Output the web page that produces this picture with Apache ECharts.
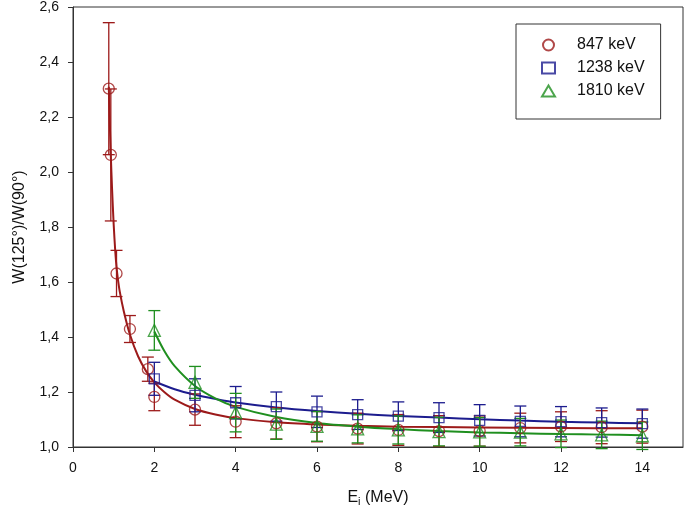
<!DOCTYPE html>
<html>
<head>
<meta charset="utf-8">
<script src="https://cdn.jsdelivr.net/npm/echarts@6/dist/echarts.min.js"></script>
<style>html,body{margin:0;padding:0;background:#fff}#c{width:685px;height:514px}</style>
</head>
<body>
<div id="c"></div>
<script>
// ---- data ----
var seriesNames = ['847 keV', '1238 keV', '1810 keV'];

var x847 = [0.88, 0.93, 1.07, 1.40, 1.84, 2.0, 3, 4, 5, 6, 7, 8, 9, 10, 11, 12, 13, 14];
var y847 = [2.303, 2.062, 1.631, 1.429, 1.283, 1.182, 1.136, 1.092, 1.086, 1.074, 1.067, 1.062, 1.058, 1.058, 1.069, 1.074, 1.072, 1.074];
var e847 = [0.24, 0.24, 0.084, 0.049, 0.044, 0.05, 0.057, 0.058, 0.057, 0.055, 0.056, 0.056, 0.056, 0.055, 0.054, 0.054, 0.06, 0.06];

var x1238 = [2, 3, 4, 5, 6, 7, 8, 9, 10, 11, 12, 13, 14];
var y1238 = [1.248, 1.188, 1.161, 1.147, 1.128, 1.118, 1.112, 1.107, 1.097, 1.093, 1.092, 1.089, 1.085];
var e1238 = [0.06, 0.06, 0.059, 0.053, 0.057, 0.054, 0.052, 0.054, 0.057, 0.056, 0.055, 0.053, 0.053];

var x1810 = [2, 3, 4, 5, 6, 7, 8, 9, 10, 11, 12, 13, 14];
var y1810 = [1.424, 1.235, 1.125, 1.083, 1.075, 1.066, 1.062, 1.056, 1.055, 1.054, 1.048, 1.044, 1.041];
var e1810 = [0.072, 0.058, 0.07, 0.055, 0.054, 0.051, 0.051, 0.052, 0.052, 0.05, 0.05, 0.05, 0.05];

// fitted curves
var fit847X = [0.88, 0.90, 0.93, 0.96, 1.0, 1.04, 1.07, 1.1, 1.15, 1.25, 1.4, 1.6, 1.8, 2.0, 2.25, 2.5, 3.0, 3.5, 4, 5, 6, 7, 8, 10, 12, 14];
var fit847Y = [2.31, 2.20, 2.06, 1.94, 1.81, 1.71, 1.655, 1.615, 1.565, 1.493, 1.409, 1.330, 1.275, 1.235, 1.199, 1.172, 1.138, 1.118, 1.105, 1.090, 1.082, 1.077, 1.074, 1.071, 1.069, 1.068];
var fit1238X = [2, 2.5, 3, 3.5, 4, 5, 6, 7, 8, 9, 10, 11, 12, 13, 14];
var fit1238Y = [1.238, 1.210, 1.190, 1.175, 1.162, 1.144, 1.131, 1.121, 1.113, 1.107, 1.101, 1.096, 1.092, 1.089, 1.086];
var fit1810X = [2, 2.25, 2.5, 3, 3.5, 4, 5, 6, 7, 8, 9, 10, 11, 12, 13, 14];
var fit1810Y = [1.42, 1.348, 1.294, 1.222, 1.177, 1.146, 1.109, 1.087, 1.074, 1.065, 1.058, 1.053, 1.050, 1.047, 1.045, 1.043];

var xTicks = [0, 2, 4, 6, 8, 10, 12, 14];

var colors = ['#9c1a1a', '#1c1c8e', '#1f8f1f'];
var symbols = ['circle', 'rect', 'triangle'];
var symbolSizes = [11, 10, 12];

function zip(a, b) { return a.map(function (v, i) { return [v, b[i]]; }); }
function errData(x, y, e) { return x.map(function (v, i) { return [v, y[i] - e[i], y[i] + e[i]]; }); }

function errRender(color) {
  return function (params, api) {
    var x = api.value(0), lo = api.value(1), hi = api.value(2);
    var pLo = api.coord([x, lo]), pHi = api.coord([x, hi]);
    var w = 6;
    var st = { stroke: color, lineWidth: 1.3 };
    return {
      type: 'group',
      children: [
        { type: 'line', shape: { x1: pLo[0], y1: pLo[1], x2: pHi[0], y2: pHi[1] }, style: st },
        { type: 'line', shape: { x1: pLo[0] - w, y1: pLo[1], x2: pLo[0] + w, y2: pLo[1] }, style: st },
        { type: 'line', shape: { x1: pHi[0] - w, y1: pHi[1], x2: pHi[0] + w, y2: pHi[1] }, style: st }
      ]
    };
  };
}

var pts = [[x847, y847, e847], [x1238, y1238, e1238], [x1810, y1810, e1810]];
var fits = [[fit847X, fit847Y], [fit1238X, fit1238Y], [fit1810X, fit1810Y]];

var series = [];
for (var k = 0; k < 3; k++) {
  series.push({
    name: 'fit ' + seriesNames[k], type: 'line', data: zip(fits[k][0], fits[k][1]),
    smooth: 0.3, showSymbol: false, symbol: 'none',
    lineStyle: { color: colors[k], width: 2 }, z: 2, silent: true
  });
}
for (var k = 0; k < 3; k++) {
  series.push({
    name: 'err ' + seriesNames[k], type: 'custom', data: errData(pts[k][0], pts[k][1], pts[k][2]),
    renderItem: errRender(colors[k]), encode: { x: 0, y: [1, 2] }, z: 3, silent: true
  });
}
for (var k = 0; k < 3; k++) {
  series.push({
    name: seriesNames[k], type: 'scatter', data: zip(pts[k][0], pts[k][1]),
    symbol: symbols[k], symbolSize: symbolSizes[k],
    itemStyle: { color: 'rgba(0,0,0,0)', borderColor: colors[k], borderWidth: 1.3 }, z: 4
  });
}

var fontFam = '"Liberation Sans", Arial, sans-serif';
var chart = echarts.init(document.getElementById('c'), null, { renderer: 'canvas' });
chart.setOption({
  animation: false,
  backgroundColor: '#fff',
  textStyle: { fontFamily: fontFam },
  grid: { left: 73, right: 2, top: 7, bottom: 67, show: true, borderColor: '#333', borderWidth: 1, backgroundColor: 'transparent' },
  legend: {
    data: seriesNames, orient: 'vertical', left: 516, top: 24,
    padding: [13, 16, 20, 25], itemGap: 7, itemWidth: 13, itemHeight: 11,
    borderColor: '#333', borderWidth: 1, backgroundColor: '#fff',
    selectedMode: false,
    textStyle: { fontSize: 16, color: '#111', fontFamily: fontFam, padding: [0, 0, 0, 17] }
  },
  xAxis: {
    type: 'value', min: 0, max: 15, interval: 2,
    axisLine: { show: true, lineStyle: { color: '#333', width: 1 } },
    axisTick: { show: true, length: 5, lineStyle: { color: '#333' }, customValues: xTicks },
    axisLabel: { fontSize: 14, color: '#111', margin: 14, customValues: xTicks, fontFamily: fontFam },
    splitLine: { show: false },
    name: '{m|E}{s|i}{m| (MeV)}', nameLocation: 'middle', nameGap: 41,
    nameTextStyle: {
      rich: {
        m: { fontSize: 16, color: '#111', fontFamily: fontFam },
        s: { fontSize: 11, color: '#111', fontFamily: fontFam, verticalAlign: 'bottom', padding: [8, 0, 0, 0] }
      }
    }
  },
  yAxis: {
    type: 'value', min: 1.0, max: 2.6, interval: 0.2,
    axisLine: { show: true, lineStyle: { color: '#333', width: 1 } },
    axisTick: { show: true, length: 5, lineStyle: { color: '#333' } },
    axisLabel: { fontSize: 14, color: '#111', margin: 14, fontFamily: fontFam,
      formatter: function (v) { return v.toFixed(1).replace('.', ','); } },
    splitLine: { show: false },
    name: 'W(125°)/W(90°)', nameLocation: 'middle', nameGap: 45, nameRotate: 90,
    nameTextStyle: { fontSize: 16, color: '#111', fontFamily: fontFam }
  },
  series: series
});
</script>
</body>
</html>
